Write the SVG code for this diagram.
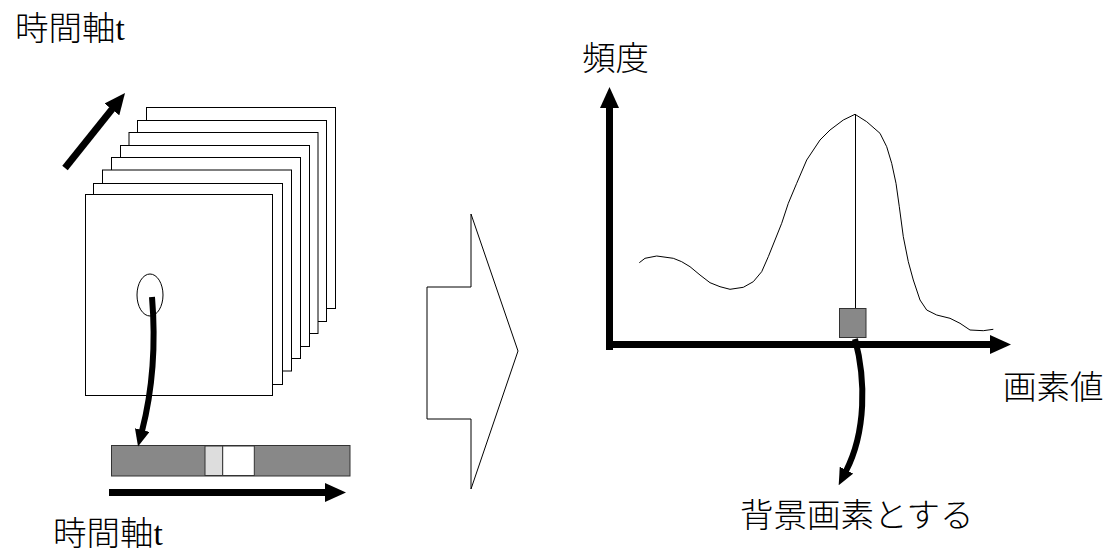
<svg xmlns="http://www.w3.org/2000/svg" width="1111" height="552" viewBox="0 0 1111 552">
<style>
.lbl{font-family:"Liberation Serif","Noto Sans CJK JP",serif;font-size:33.5px;font-weight:300;fill:#000}
.frame{fill:#fff;stroke:#000;stroke-width:1}
.thin{fill:none;stroke:#000;stroke-width:1}
.thick{fill:none;stroke:#000;stroke-width:7}
.curv{fill:none;stroke:#000;stroke-width:6}
.gray{fill:#888;stroke:#333;stroke-width:1}
</style>
<defs>
<marker id="big" markerUnits="userSpaceOnUse" markerWidth="21" markerHeight="19" viewBox="0 0 21 19" refX="1" refY="9.5" orient="auto"><path d="M0,0 L21,9.5 L0,19 z" fill="#000"/></marker>
<marker id="small" markerUnits="userSpaceOnUse" markerWidth="17" markerHeight="15" viewBox="0 0 17 15" refX="1" refY="7.5" orient="auto"><path d="M0,0 L17,7.5 L0,15 z" fill="#000"/></marker>
</defs>
<rect width="1111" height="552" fill="#fff"/>

<g id="frames">
<rect class="frame" x="146.5" y="107.5" width="189" height="201"/>
<rect class="frame" x="137.5" y="120.5" width="189" height="201"/>
<rect class="frame" x="129" y="132.5" width="189" height="201"/>
<rect class="frame" x="120.5" y="145.5" width="189" height="201"/>
<rect class="frame" x="111.5" y="157.5" width="189" height="201"/>
<rect class="frame" x="102.5" y="170" width="189" height="201"/>
<rect class="frame" x="93.5" y="183.5" width="189" height="201"/>
<rect class="frame" x="85.5" y="194.5" width="187" height="201"/>
<ellipse class="thin" cx="150" cy="295" rx="13" ry="21"/>
</g>

<g id="pixel-bar">
<rect class="gray" x="111.5" y="445.5" width="238.5" height="30.5"/>
<rect x="205" y="446" width="17.7" height="29.5" fill="#ddd" stroke="#333" stroke-width="1"/>
<rect x="222.7" y="446" width="31.6" height="29.5" fill="#fff" stroke="#333" stroke-width="1"/>
</g>

<g id="block-arrow">
<polygon class="frame" points="471,214 518,351 471,489 471,419 427,419 427,287 471,287"/>
</g>

<g id="histogram">
<polyline class="thin" points="639.3,262.7 645,258.3 656.7,256 673.3,258.3 681.7,261.7 690,266.7 700,275 710,282.7 720,286.7 730,289.3 743.3,287.3 753.3,281.7 761.7,271.7 768.3,256.7 775,240 781.7,223.3 788.3,203.3 796.7,183.3 806.7,160 820,140 830,130 843.3,120 855,114.3 866.7,121.7 880,133.3 886.7,146.7 891.7,163.3 896,183.3 899.3,206.7 903.3,236.7 908.3,261.7 913.3,280 920,300 926.7,310 936.7,315 950,318.3 960,323.3 970,330 983.3,330.7 993.3,329.3"/>
<line class="thin" x1="855.5" y1="114" x2="855.5" y2="309"/>
<rect class="gray" x="839.5" y="308.5" width="26.5" height="29"/>
</g>

<g id="connectors">
<line class="thick" x1="65" y1="168" x2="112.5" y2="108.6" marker-end="url(#big)"/>
<line class="thick" x1="109" y1="492.5" x2="326" y2="492.5" marker-end="url(#big)"/>
<path class="curv" d="M152,297 C156,345 152,392 142,431" marker-end="url(#small)"/>
<line class="thick" x1="609.5" y1="350" x2="609.5" y2="107" marker-end="url(#big)"/>
<line class="thick" x1="606" y1="344.5" x2="991" y2="344.5" marker-end="url(#big)"/>
<path class="curv" d="M855,339 C866,380 866,432 846,471" marker-end="url(#small)"/>
</g>

<g id="labels">
<text class="lbl" x="15" y="40">時間軸t</text>
<text class="lbl" x="53" y="545">時間軸t</text>
<text class="lbl" x="582" y="70">頻度</text>
<text class="lbl" x="1003" y="399">画素値</text>
<text class="lbl" x="740" y="527">背景画素とする</text>
</g>
</svg>
